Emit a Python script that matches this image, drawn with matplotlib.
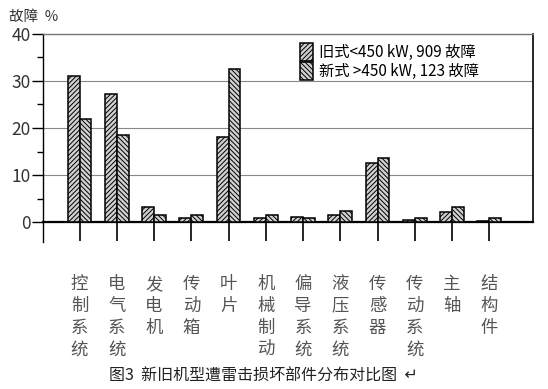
import matplotlib.pyplot as plt
import numpy as np

plt.rcParams['font.family'] = ['Noto Sans CJK SC', 'DejaVu Sans']
plt.rcParams['hatch.linewidth'] = 0.7

parts = ["控制系统", "电气系统", "发电机", "传动箱", "叶片", "机械制动",
         "偏导系统", "液压系统", "传感器", "传动系统", "主轴", "结构件"]
old_pct = [31.0, 27.2, 3.2, 0.8, 18.0, 0.8, 1.2, 1.6, 12.5, 0.4, 2.2, 0.3]
new_pct = [22.0, 18.5, 1.6, 1.6, 32.5, 1.6, 0.8, 2.4, 13.7, 0.8, 3.3, 0.8]
legend_labels = ["旧式<450 kW, 909 故障", "新式 >450 kW, 123 故障"]

fig = plt.figure(figsize=(5.48, 3.89), dpi=100)
ax = fig.add_axes([0.0785, 0.378, 0.894, 0.535])

x = np.arange(len(parts))
w = 0.32
ax.bar(x - w / 2, old_pct, w, color="#d0d0d0", edgecolor="black",
       linewidth=1.1, hatch="///////", label=legend_labels[0], zorder=3)
ax.bar(x + w / 2, new_pct, w, color="#d0d0d0", edgecolor="black",
       linewidth=1.1, hatch="\\\\\\\\\\\\\\", label=legend_labels[1], zorder=3)

ax.set_xlim(-0.98, 12.17)
ax.set_ylim(-4.2, 40)

ax.spines['bottom'].set_position(('data', 0))
ax.spines['bottom'].set_linewidth(1.6)
ax.spines['left'].set_bounds(-4.2, 40)
ax.spines['right'].set_bounds(0, 40)
ax.spines['top'].set_color("#777777")
ax.spines['top'].set_linewidth(1.0)
ax.spines['left'].set_linewidth(1.0)
ax.spines['right'].set_linewidth(1.2)

ax.set_yticks([0, 10, 20, 30, 40])
ax.set_yticks([5, 15, 25, 35], minor=True)
ax.tick_params(axis='y', which='major', direction='out', length=8, width=1.0,
               labelsize=12.5, labelcolor="#333333", pad=1)
ax.tick_params(axis='y', which='minor', direction='out', length=4, width=1.0)
ax.yaxis.grid(True, color="#888888", linewidth=0.8, zorder=0)

ax.set_xticks(x)
ax.set_xticklabels(["\n".join(p) for p in parts], fontsize=12.5,
                   color="#555555", linespacing=1.27, va='top')
ax.tick_params(axis='x', direction='out', length=14, width=1.2, pad=24)

ax.text(-0.07, 1.045, "故障  %", transform=ax.transAxes, fontsize=10.5,
        color="#333333", ha='left', va='bottom')

ax.legend(loc='upper left', bbox_to_anchor=(0.505, 1.0), frameon=False,
          fontsize=11, handlelength=0.9, handleheight=1.4, handletextpad=0.4,
          labelspacing=0.1, borderaxespad=0.2)

fig.text(0.48, 0.01, "图3  新旧机型遭雷击损坏部件分布对比图  ↵", ha='center',
         va='bottom', fontsize=11.5, color="#222222")

fig.savefig("out.png", dpi=100)
